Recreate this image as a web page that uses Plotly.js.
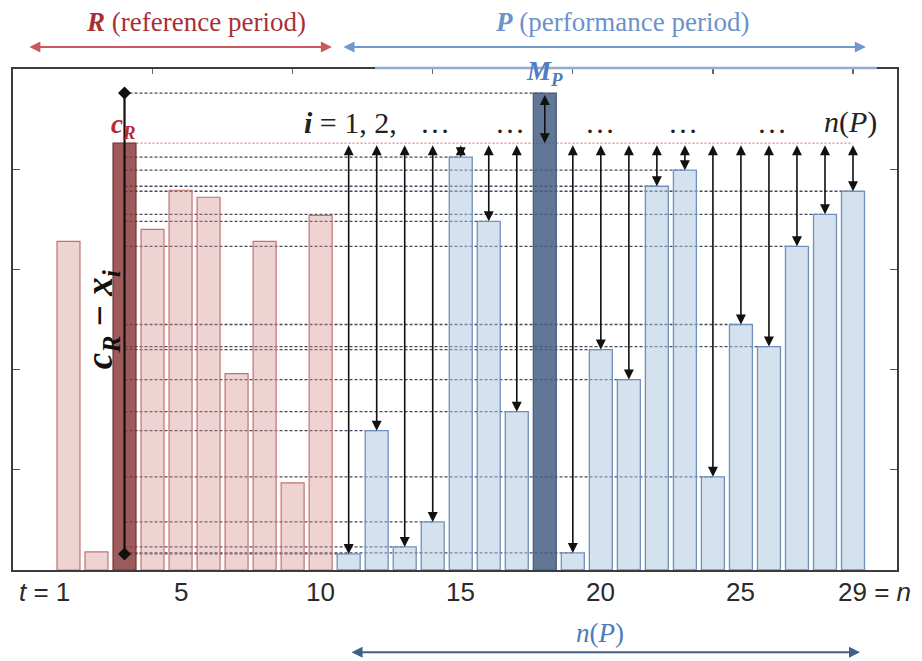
<!DOCTYPE html>
<html>
<head>
<meta charset="utf-8">
<script src="https://cdn.plot.ly/plotly-3.0.1.min.js"></script>
<style>html,body{margin:0;padding:0;background:#fff;}#chart{width:922px;height:661px;}</style>
</head>
<body>
<div id="chart"></div>
<script>
// ---- data ----
const periods = [1,2,3,4,5,6,7,8,9,10,11,12,13,14,15,16,17,18,19,20,21,22,23,24,25,26,27,28,29];
const values  = [3.28,0.18,4.26,3.40,3.79,3.72,1.96,3.28,0.87,3.54,
                 0.16,1.39,0.23,0.48,4.12,3.48,1.58,4.76,0.17,2.20,
                 1.90,3.83,3.99,0.93,2.45,2.23,3.23,3.55,3.78];
const refEnd = 10;      // last period of reference period R
const cRPeriod = 3;     // period holding c_R
const mPPeriod = 18;    // period holding M_P
const bottomTickVals = [1,5,10,15,20,25,29];
const bottomTickText = ["<i>t</i> = 1","5","10","15","20","25","29 = <i>n</i>"];
const topTickVals = [4,9,14,19,24,29];

// ---- derived ----
const valOf = t => values[periods.indexOf(t)];
const cR = valOf(cRPeriod);
const mP = valOf(mPPeriod);
const refX = [], refY = [], perfX = [], perfY = [];
periods.forEach((t,k)=>{
  if (t<=refEnd && t!==cRPeriod){refX.push(t);refY.push(values[k]);}
  if (t>refEnd && t!==mPPeriod){perfX.push(t);perfY.push(values[k]);}
});
const minP = Math.min(...perfY);

const serif = "Liberation Serif, Times New Roman, serif";
const sans = "Liberation Sans Narrow, Liberation Sans, Arial, sans-serif";
const W = 0.82;

const traces = [
  {type:'bar', x:refX, y:refY, width:W, marker:{color:'rgba(214,140,140,0.38)', line:{color:'#c47070', width:1.2}}, hoverinfo:'skip'},
  {type:'bar', x:[cRPeriod], y:[cR], width:W, marker:{color:'rgba(135,55,55,0.82)', line:{color:'#7a3030', width:1.2}}, hoverinfo:'skip'},
  {type:'bar', x:perfX, y:perfY, width:W, marker:{color:'rgba(170,195,222,0.50)', line:{color:'#6f8fbd', width:1.3}}, hoverinfo:'skip'},
  {type:'bar', x:[mPPeriod], y:[mP], width:W, marker:{color:'rgba(70,95,130,0.85)', line:{color:'#44597a', width:1.2}}, hoverinfo:'skip'},
  {type:'scatter', mode:'lines+markers', x:[cRPeriod,cRPeriod], y:[mP,minP], line:{color:'#111', width:2.2},
   marker:{symbol:'diamond', size:10, color:'#111'}, hoverinfo:'skip'},
  {type:'scatter', mode:'markers', x:[topTickVals[0]], y:[0], xaxis:'x2', marker:{opacity:0}, hoverinfo:'skip'}
];

const shapes = [];
const annotations = [];
const dashStyle = {color:'#444a5a', width:1.3, dash:'3px,2px'};
// dashed level lines from the c_R line to each performance bar
perfX.forEach((t,k)=>{
  shapes.push({type:'line', layer:'below', xref:'x', yref:'y', x0:cRPeriod, x1:t, y0:perfY[k], y1:perfY[k], line:dashStyle});
  annotations.push({xref:'x', yref:'y', axref:'x', ayref:'y', x:t, y:perfY[k], ax:t, ay:cR,
    text:' ', font:{size:1}, showarrow:true, arrowside:'end+start', arrowhead:2, startarrowhead:2,
    arrowsize:1.25, startarrowsize:1.25, arrowwidth:1.6, arrowcolor:'#111', standoff:0, startstandoff:0});
});
shapes.push({type:'line', layer:'below', xref:'x', yref:'y', x0:cRPeriod, x1:mPPeriod, y0:mP, y1:mP, line:dashStyle});
shapes.push({type:'line', layer:'below', xref:'x', yref:'y', x0:cRPeriod, x1:periods[periods.length-1], y0:cR, y1:cR, line:{color:'#d86a6a', width:1, dash:'2px,2px'}});
// blue overlay on top frame
shapes.push({type:'line', layer:'above', xref:'x', yref:'paper', x0:11.94, x1:29.85, y0:1.002, y1:1.002, line:{color:'#93acd2', width:2.5}});
// M_P arrow
annotations.push({xref:'x', yref:'y', axref:'x', ayref:'y', x:mPPeriod, y:cR, ax:mPPeriod, ay:mP,
  text:' ', font:{size:1}, showarrow:true, arrowside:'end+start', arrowhead:2, startarrowhead:2,
  arrowsize:1.25, startarrowsize:1.25, arrowwidth:1.6, arrowcolor:'#111', standoff:0, startstandoff:0});

// period arrows at top and bottom
function hArrow(x0,x1,y,color,w){
  annotations.push({xref:'x', yref:'paper', axref:'x', ayref:'pixel', x:x1, y:y, ax:x0, ay:0,
    text:' ', font:{size:1}, showarrow:true, arrowside:'end+start', arrowhead:2, startarrowhead:2,
    arrowsize:1.1, startarrowsize:1.1, arrowwidth:w, arrowcolor:color, standoff:0, startstandoff:0});
}
hArrow(-0.45, 10.4, 1.044, '#c8585c', 2);
hArrow(10.76, 29.46, 1.044, '#7198cd', 2);
hArrow(11.05, 29.25, -0.164, '#40608a', 2);

function txt(x, y, text, size, color, opts){
  annotations.push(Object.assign({xref:'x', yref:'paper', x:x, y:y, text:text, showarrow:false,
    font:{family:serif, size:size, color:color}, xanchor:'center', yanchor:'middle'}, opts||{}));
}
txt(5.55, 1.094, "<b><i>R</i></b> (reference period)", 27, '#a83035');
txt(20.76, 1.094, "<b><i>P</i></b> (performance period)", 27, '#6c92c9');
txt(18, 0.993, "<b><i>M</i></b><sub><b><i>P</i></b></sub>", 27, '#4f7dc0');
txt(2.95, 0.887, "<b><i>c</i></b><sub><b><i>R</i></b></sub>", 27, '#b8282c');
txt(2.22, 0.5, "<b><i>c</i></b><sub><b><i>R</i></b></sub><b> − </b><b><i>x</i></b><sub><b><i>i</i></b></sub>", 37, '#111', {textangle:-90});
txt(11.05, 0.894, "<b><i>i</i></b> = 1, 2,", 30, '#222');
[14.08, 16.76, 19.97, 22.93, 26.1].forEach(x=>txt(x, 0.894, "…", 30, '#222'));
txt(28.9, 0.894, "<i>n</i>(<i>P</i>)", 30, '#222');
txt(19.97, -0.126, "<i>n</i>(<i>P</i>)", 27, '#4a7cc0');

// bottom tick labels
bottomTickVals.forEach((v,k)=>{
  const o = {font:{family:sans, size:26, color:'#2a2a2a'}};
  if (k===0){o.xanchor='right'; o.xshift=4;}
  else if (k===bottomTickVals.length-1){o.xanchor='left'; o.xshift=-17;}
  txt(v, -0.044, bottomTickText[k], 26, '#2a2a2a', o);
});

const layout = {
  width:922, height:661,
  margin:{l:13, r:25, t:69, b:91},
  paper_bgcolor:'#fff', plot_bgcolor:'#fff',
  showlegend:false, barmode:'overlay',
  xaxis:{range:[-0.98,30.57], showline:true, mirror:true, linecolor:'#3c3c3c', linewidth:2,
         ticks:'', showticklabels:false, showgrid:false, zeroline:false, fixedrange:true},
  xaxis2:{overlaying:'x', side:'top', range:[-0.98,30.57], ticks:'inside', ticklen:5, tickwidth:1.2, tickcolor:'#666',
          tickvals:topTickVals, showticklabels:false, showline:false, showgrid:false, zeroline:false},
  yaxis:{range:[0,5], showline:true, mirror:'ticks', linecolor:'#3c3c3c', linewidth:2, ticks:'inside', ticklen:7,
         tickwidth:1.2, tickcolor:'#555', tickvals:[1,2,3,4], showticklabels:false, showgrid:false, zeroline:false},
  shapes:shapes, annotations:annotations
};
Plotly.newPlot('chart', traces, layout, {displayModeBar:false, staticPlot:true});
</script>
</body>
</html>
